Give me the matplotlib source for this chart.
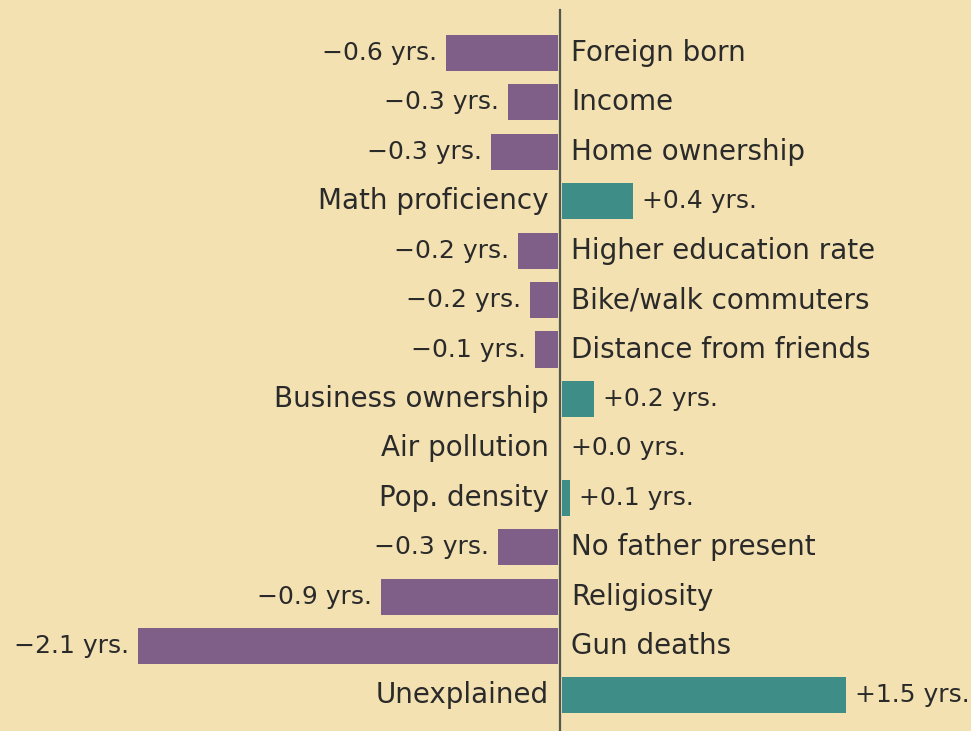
import matplotlib
matplotlib.use("Agg")
from matplotlib import pyplot as plt

categories = ["Foreign born", "Income", "Home ownership", "Math proficiency",
              "Higher education rate", "Bike/walk commuters", "Distance from friends",
              "Business ownership", "Air pollution", "Pop. density",
              "No father present", "Religiosity", "Gun deaths", "Unexplained"]
values = [-0.56, -0.25, -0.335, 0.355, -0.2, -0.14, -0.115, 0.16, 0.0, 0.04,
          -0.3, -0.885, -2.1, 1.42]
value_labels = ["\u22120.6 yrs.", "\u22120.3 yrs.", "\u22120.3 yrs.", "+0.4 yrs.",
                "\u22120.2 yrs.", "\u22120.2 yrs.", "\u22120.1 yrs.", "+0.2 yrs.",
                "+0.0 yrs.", "+0.1 yrs.", "\u22120.3 yrs.", "\u22120.9 yrs.",
                "\u22122.1 yrs.", "+1.5 yrs."]

bg = "#f3e1b2"
purple = "#7f5f88"
teal = "#3e8e87"
ink = "#2a2a2a"

plt.rcParams["font.family"] = ["DejaVu Sans"]

fig = plt.figure(figsize=(9.71, 7.31), dpi=100, facecolor=bg)
ax = fig.add_axes([0, 0, 1, 1])
ax.set_facecolor(bg)

y = list(range(len(categories)))
colors = [purple if v < 0 else teal for v in values]
lefts = [-0.01 if v < 0 else 0.01 for v in values]
ax.barh(y, values, left=lefts, height=0.73, color=colors)

ax.plot([0, 0], [-0.87, 14], color="#555555", lw=1.6)

gap = 0.055
fs_cat = 20
fs_val = 18
for i, (c, v, lab) in enumerate(zip(categories, values, value_labels)):
    if v < 0:
        ax.text(v - gap, i, lab, ha="right", va="center", fontsize=fs_val, color=ink)
        ax.text(gap, i, c, ha="left", va="center", fontsize=fs_cat, color=ink)
    else:
        ax.text(-gap, i, c, ha="right", va="center", fontsize=fs_cat, color=ink)
        ax.text(v + gap, i, lab, ha="left", va="center", fontsize=fs_val, color=ink)

ax.set_xlim(-2.8, 2.055)
ax.set_ylim(13.72, -1.073)
ax.axis("off")

fig.savefig("out.png", dpi=100, facecolor=bg)
